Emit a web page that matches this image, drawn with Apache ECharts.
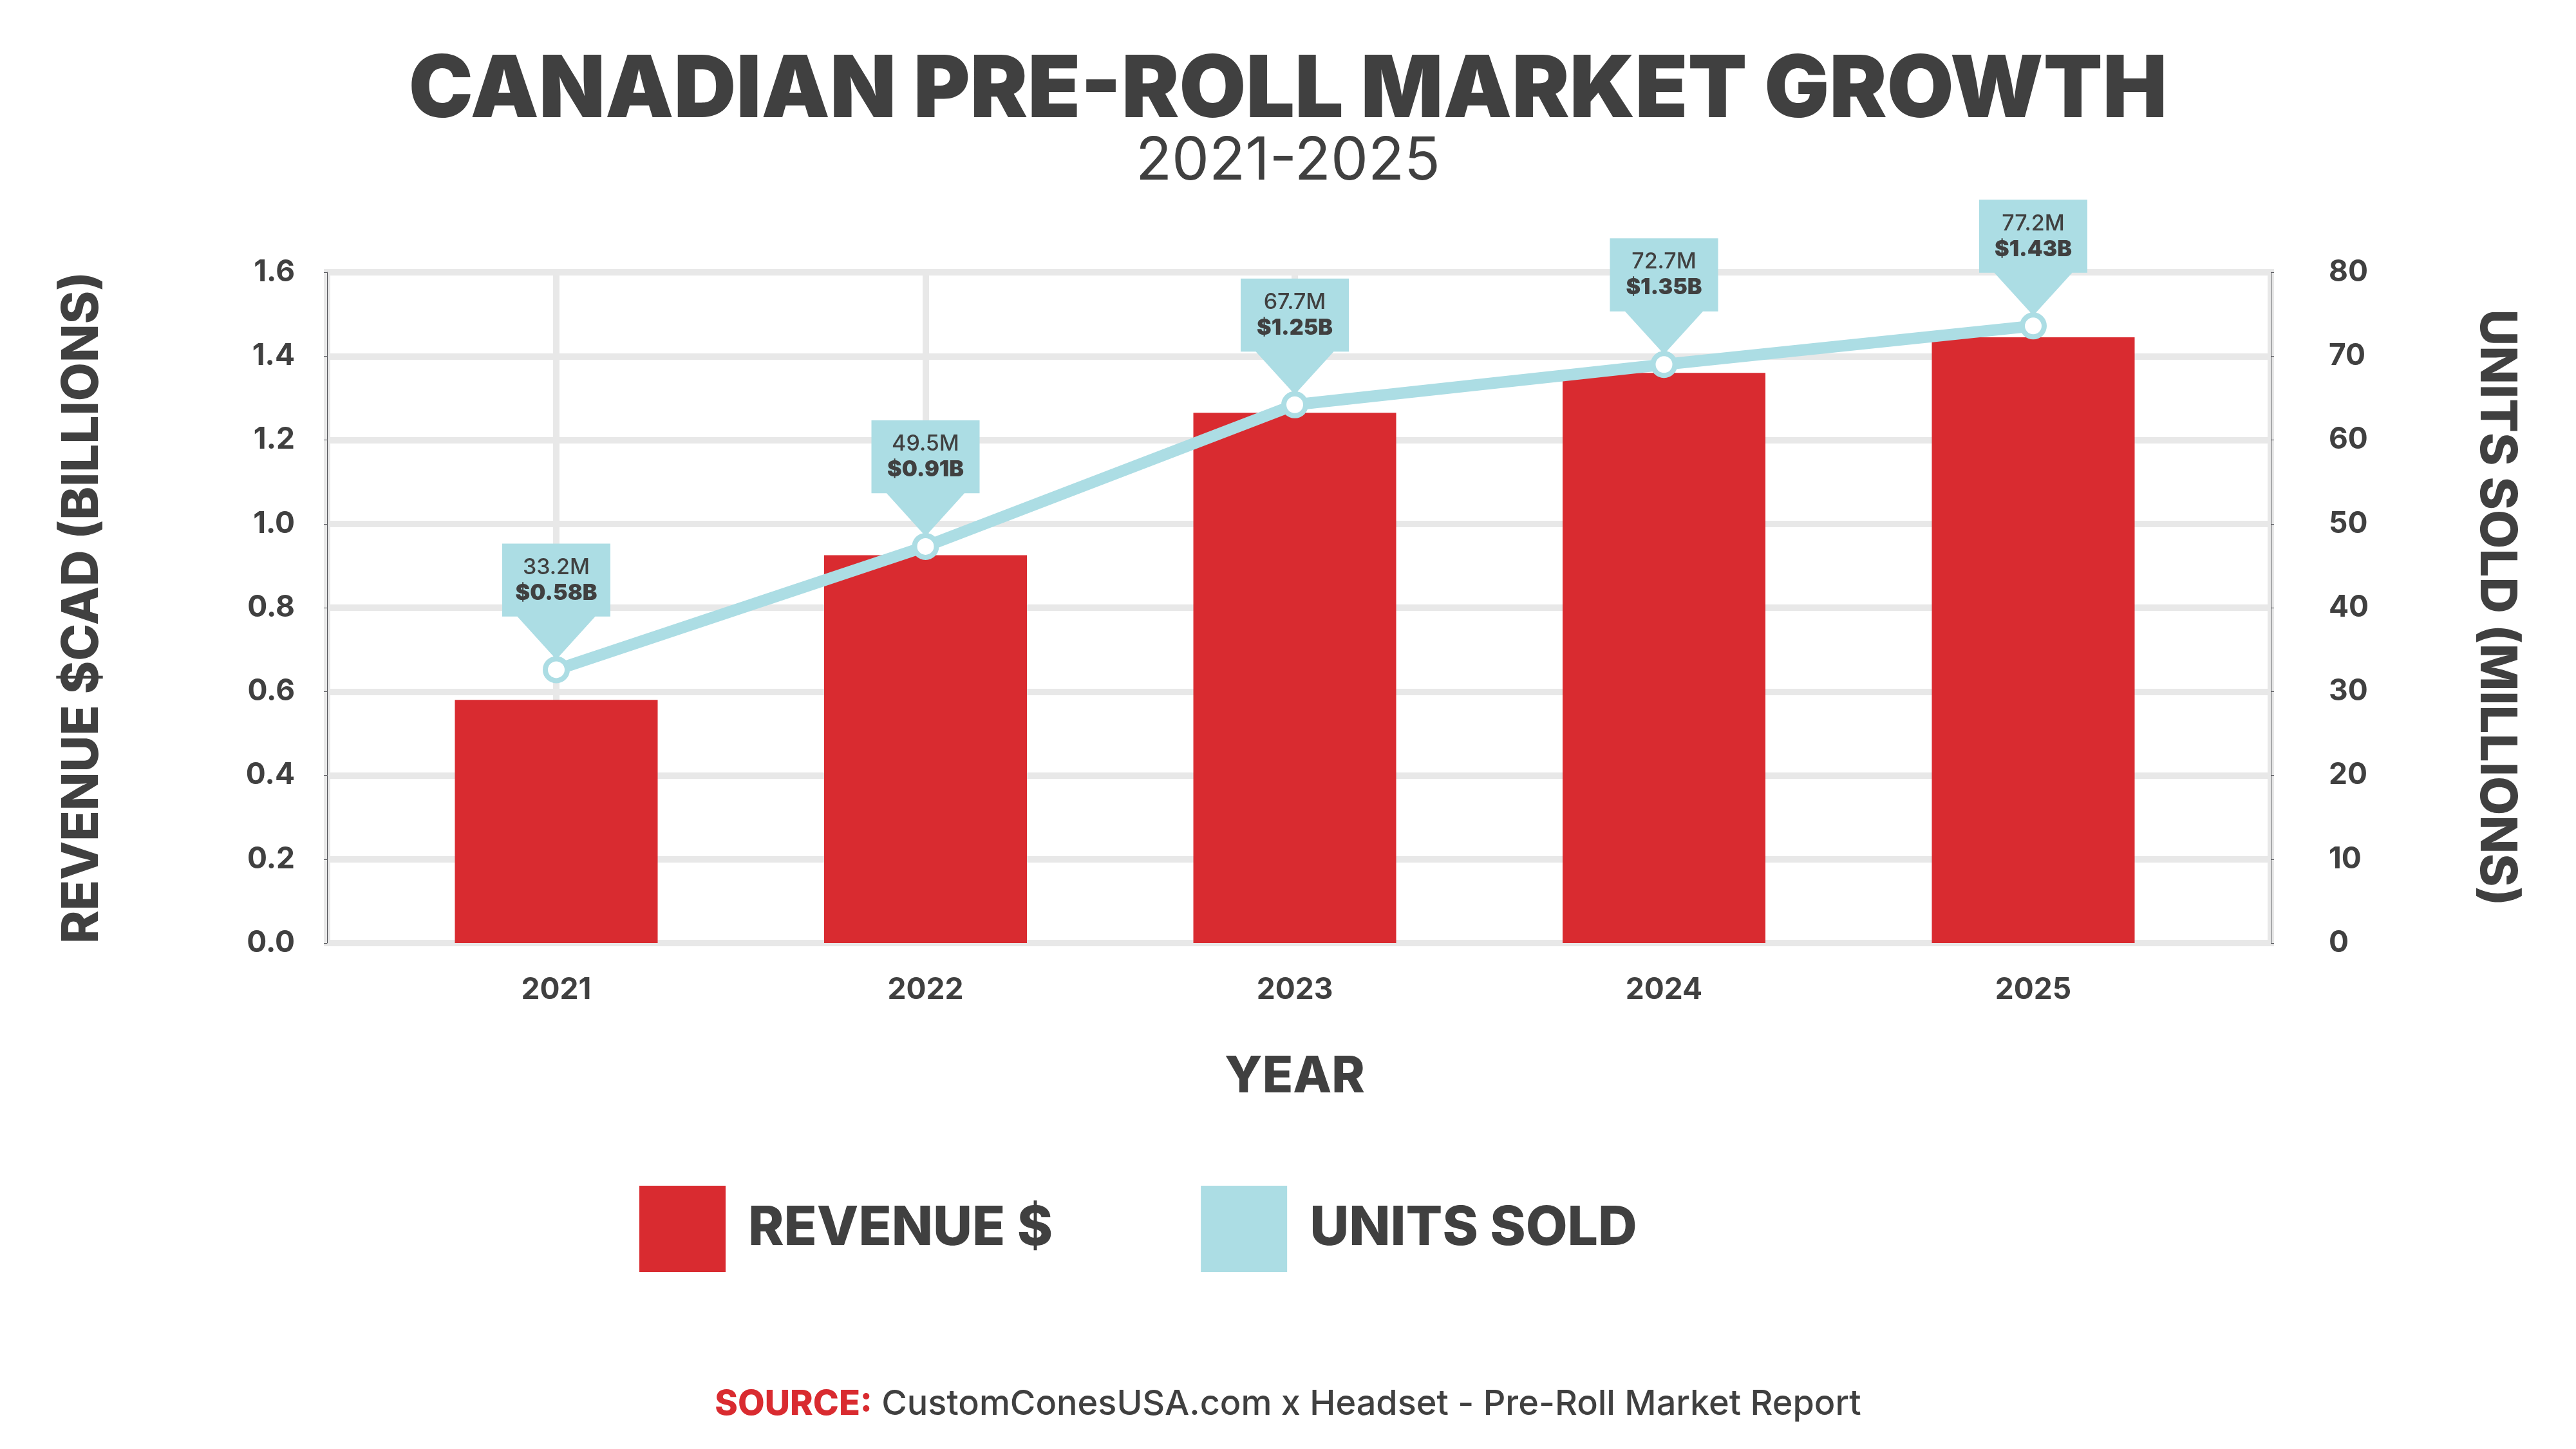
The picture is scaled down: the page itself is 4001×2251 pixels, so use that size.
<!DOCTYPE html>
<html lang="en">
<head>
    <meta charset="UTF-8">
    <script src="https://cdn.jsdelivr.net/npm/echarts@6/dist/echarts.min.js"></script>
    <title>Canadian Pre-Roll Market Growth</title>
    <style>html,body{margin:0;background:#fff;}</style>
</head>
<body>
<div id="main" style="width:4001px;height:2251px;"></div>
<script type="text/javascript">
    var years = ['2021', '2022', '2023', '2024', '2025'];
    var revenue = [0.58, 0.925, 1.265, 1.36, 1.445];
    var units = [32.6, 47.3, 64.2, 69.0, 73.6];
    var unitLabels = ['33.2M', '49.5M', '67.7M', '72.7M', '77.2M'];
    var revenueLabels = ['$0.58B', '$0.91B', '$1.25B', '$1.35B', '$1.43B'];
    var leftTicks = ['0.0', '0.2', '0.4', '0.6', '0.8', '1.0', '1.2', '1.4', '1.6'];

    var dark = '#404040';
    var red = '#d92b30';
    var blue = '#acdde4';
    var gridGray = '#e8e8e8';
    var font = 'Inter';

    var myChart = echarts.init(document.getElementById('main'));

    var callouts = years.map(function (y, i) {
        return {
            coord: [i, units[i]],
            value: unitLabels[i] + '\n{b|' + revenueLabels[i] + '}'
        };
    });

    // grid 0 = outer frame + horizontal lines, grid 1 = category area
    var option = {
        backgroundColor: '#fff',
        title: [
            {
                text: 'CANADIAN PRE-ROLL MARKET GROWTH',
                left: 'center', top: 70,
                textStyle: {fontFamily: font, fontWeight: 900, fontSize: 134, color: dark}
            },
            {
                text: '2021-2025',
                left: 'center', top: 200,
                textStyle: {fontFamily: font, fontWeight: 400, fontSize: 92, color: dark}
            },
            {
                text: '{r|SOURCE:} CustomConesUSA.com x Headset - Pre-Roll Market Report',
                left: 'center', top: 2150,
                textStyle: {
                    fontFamily: font, fontWeight: 500, fontSize: 54, color: dark,
                    rich: {r: {fontFamily: font, fontWeight: 800, fontSize: 54, color: red}}
                }
            }
        ],
        legend: {
            bottom: 270,
            left: 988,
            itemWidth: 134,
            itemHeight: 134,
            itemGap: 230,
            icon: 'rect',
            selectedMode: false,
            textStyle: {fontFamily: font, fontWeight: 800, fontSize: 84, color: dark, padding: [0, 0, 0, 30]},
            data: [
                {name: 'REVENUE $', itemStyle: {color: red}},
                {name: 'UNITS SOLD', itemStyle: {color: blue, borderWidth: 0}}
            ]
        },
        grid: [
            {left: 508, right: 474, top: 423, bottom: 786, show: true, borderColor: gridGray, borderWidth: 10},
            {left: 864, right: 843, top: 423, bottom: 786}
        ],
        xAxis: [
            {
                type: 'value', gridIndex: 0, min: 0, max: 1, show: false
            },
            {
                type: 'category',
                gridIndex: 1,
                data: years,
                boundaryGap: false,
                name: 'YEAR',
                nameLocation: 'middle',
                nameGap: 170,
                nameTextStyle: {fontFamily: font, fontWeight: 800, fontSize: 78, color: dark},
                axisLine: {show: false},
                axisTick: {show: false},
                axisLabel: {fontFamily: font, fontWeight: 700, fontSize: 46, color: dark, margin: 50},
                splitLine: {show: true, lineStyle: {color: gridGray, width: 10}}
            }
        ],
        yAxis: [
            {
                type: 'value', gridIndex: 0, min: 0, max: 1.6, interval: 0.2,
                name: 'REVENUE $CAD (BILLIONS)',
                nameLocation: 'middle', nameGap: 340, nameRotate: 90,
                nameTextStyle: {fontFamily: font, fontWeight: 800, fontSize: 78, color: dark},
                axisLabel: {
                    fontFamily: font, fontWeight: 700, fontSize: 46, color: dark, margin: 50,
                    formatter: function (v) { return leftTicks[Math.round(v / 0.2)]; }
                },
                splitLine: {lineStyle: {color: gridGray, width: 10}}
            },
            {
                type: 'value', gridIndex: 0, min: 0, max: 80, interval: 10, position: 'right',
                name: 'UNITS SOLD (MILLIONS)',
                nameLocation: 'middle', nameGap: 310, nameRotate: 270,
                nameTextStyle: {fontFamily: font, fontWeight: 800, fontSize: 78, color: dark},
                axisLabel: {fontFamily: font, fontWeight: 700, fontSize: 46, color: dark, margin: 90},
                splitLine: {show: false}
            },
            {type: 'value', gridIndex: 1, min: 0, max: 1.6, show: false, splitLine: {show: false}},
            {type: 'value', gridIndex: 1, min: 0, max: 80, show: false, splitLine: {show: false}}
        ],
        series: [
            {
                name: 'REVENUE $',
                type: 'bar',
                xAxisIndex: 1,
                yAxisIndex: 2,
                data: revenue,
                barWidth: 315,
                itemStyle: {color: red},
                silent: true
            },
            {
                name: 'UNITS SOLD',
                type: 'line',
                xAxisIndex: 1,
                yAxisIndex: 3,
                data: units,
                silent: true,
                symbol: 'circle',
                symbolSize: 34,
                lineStyle: {color: blue, width: 18},
                itemStyle: {color: '#fff', borderColor: blue, borderWidth: 8},
                markPoint: {
                    silent: true,
                    emphasis: {disabled: true},
                    symbol: 'path://M0,0 H100 V63 H86 L50,100 L14,63 H0 Z',
                    symbolSize: [168, 180],
                    symbolOffset: [0, -106],
                    itemStyle: {color: blue},
                    label: {
                        show: true,
                        position: 'inside',
                        offset: [0, -33],
                        fontFamily: font, fontSize: 34, fontWeight: 500, color: dark,
                        lineHeight: 40,
                        rich: {b: {fontFamily: font, fontSize: 34, fontWeight: 900, color: dark}},
                        formatter: function (p) { return p.value; }
                    },
                    data: callouts
                }
            }
        ]
    };

    myChart.setOption(option);
</script>
</body>
</html>
